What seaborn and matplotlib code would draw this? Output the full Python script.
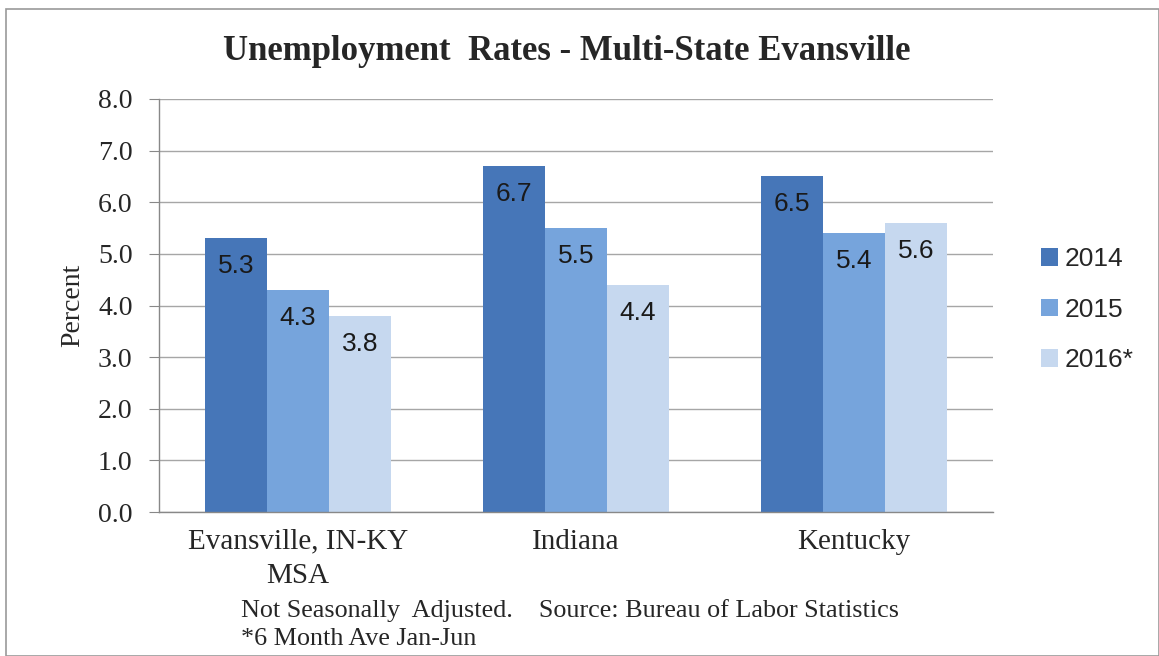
import pandas as pd
import matplotlib.pyplot as plt
import seaborn as sns

# data
categories = ["Evansville, IN-KY\nMSA", "Indiana", "Kentucky"]
years = ["2014", "2015", "2016*"]
rate_2014 = [5.3, 6.7, 6.5]
rate_2015 = [4.3, 5.5, 5.4]
rate_2016 = [3.8, 4.4, 5.6]
colors = ["#4676B8", "#76A4DC", "#C6D8EF"]

df = pd.DataFrame({
    "Area": categories * 3,
    "Year": [y for y in years for _ in categories],
    "Rate": rate_2014 + rate_2015 + rate_2016,
})

sns.set_style("white")
plt.rcParams["font.family"] = ["Liberation Serif", "DejaVu Serif"]

fig = plt.figure(figsize=(11.59, 6.56), dpi=100)
ax = fig.add_axes([159 / 1159, 1 - 512 / 656, (993 - 159) / 1159, (512 - 99) / 656])

sns.barplot(data=df, x="Area", y="Rate", hue="Year", palette=colors,
            width=0.67, gap=0, saturation=1, linewidth=0, ax=ax, legend=True)

# value labels inside bar tops
for cont in ax.containers:
    for p in cont.patches:
        h = p.get_height()
        ax.annotate(f"{h:.1f}", (p.get_x() + p.get_width() / 2, h),
                    xytext=(0, -20), textcoords="offset points", ha="center", va="center",
                    fontsize=19, family=["Liberation Sans"], color="#1a1a1a")

ax.set_ylim(0, 8)
ax.set_yticks([i for i in range(9)])
ax.set_yticklabels([f"{i:.1f}" for i in range(9)], fontsize=20)
ax.set_xticks(range(len(categories)))
ax.set_xticklabels(categories, fontsize=21, linespacing=1.4)
ax.tick_params(axis="x", length=0, pad=12)
ax.tick_params(axis="y", length=7, color="#888888", left=True, pad=12)
ax.set_xlabel("")
ax.set_ylabel("Percent", fontsize=20, labelpad=9)
ax.yaxis.grid(True, color="#A6A6A6", linewidth=1)
ax.set_axisbelow(True)
for s in ["top", "right"]:
    ax.spines[s].set_visible(False)
for s in ["left", "bottom"]:
    ax.spines[s].set_color("#888888")
    ax.spines[s].set_linewidth(1)

leg = ax.legend(loc="center left", bbox_to_anchor=(1.029, 0.49), frameon=False,
                prop={"family": "Liberation Sans", "size": 19},
                handlelength=0.65, handleheight=0.65, handletextpad=0.25, labelspacing=1.0)

fig.text(567 / 1159, 1 - 52 / 656, "Unemployment  Rates - Multi-State Evansville", ha="center", va="center",
         fontsize=25, fontweight="bold")
fig.text(241 / 1159, 1 - 611 / 656, "Not Seasonally  Adjusted.    Source: Bureau of Labor Statistics",
         ha="left", va="center", fontsize=18.8)
fig.text(241 / 1159, 1 - 639 / 656, "*6 Month Ave Jan-Jun", ha="left", va="center", fontsize=18.8)

# outer chart border
fig.patches.append(plt.Rectangle((6 / 1159, 0), 1 - 6 / 1159, 1 - 9 / 656, transform=fig.transFigure,
                                 fill=False, edgecolor="#999999", linewidth=1.2))

fig.savefig("out.png", dpi=100)
